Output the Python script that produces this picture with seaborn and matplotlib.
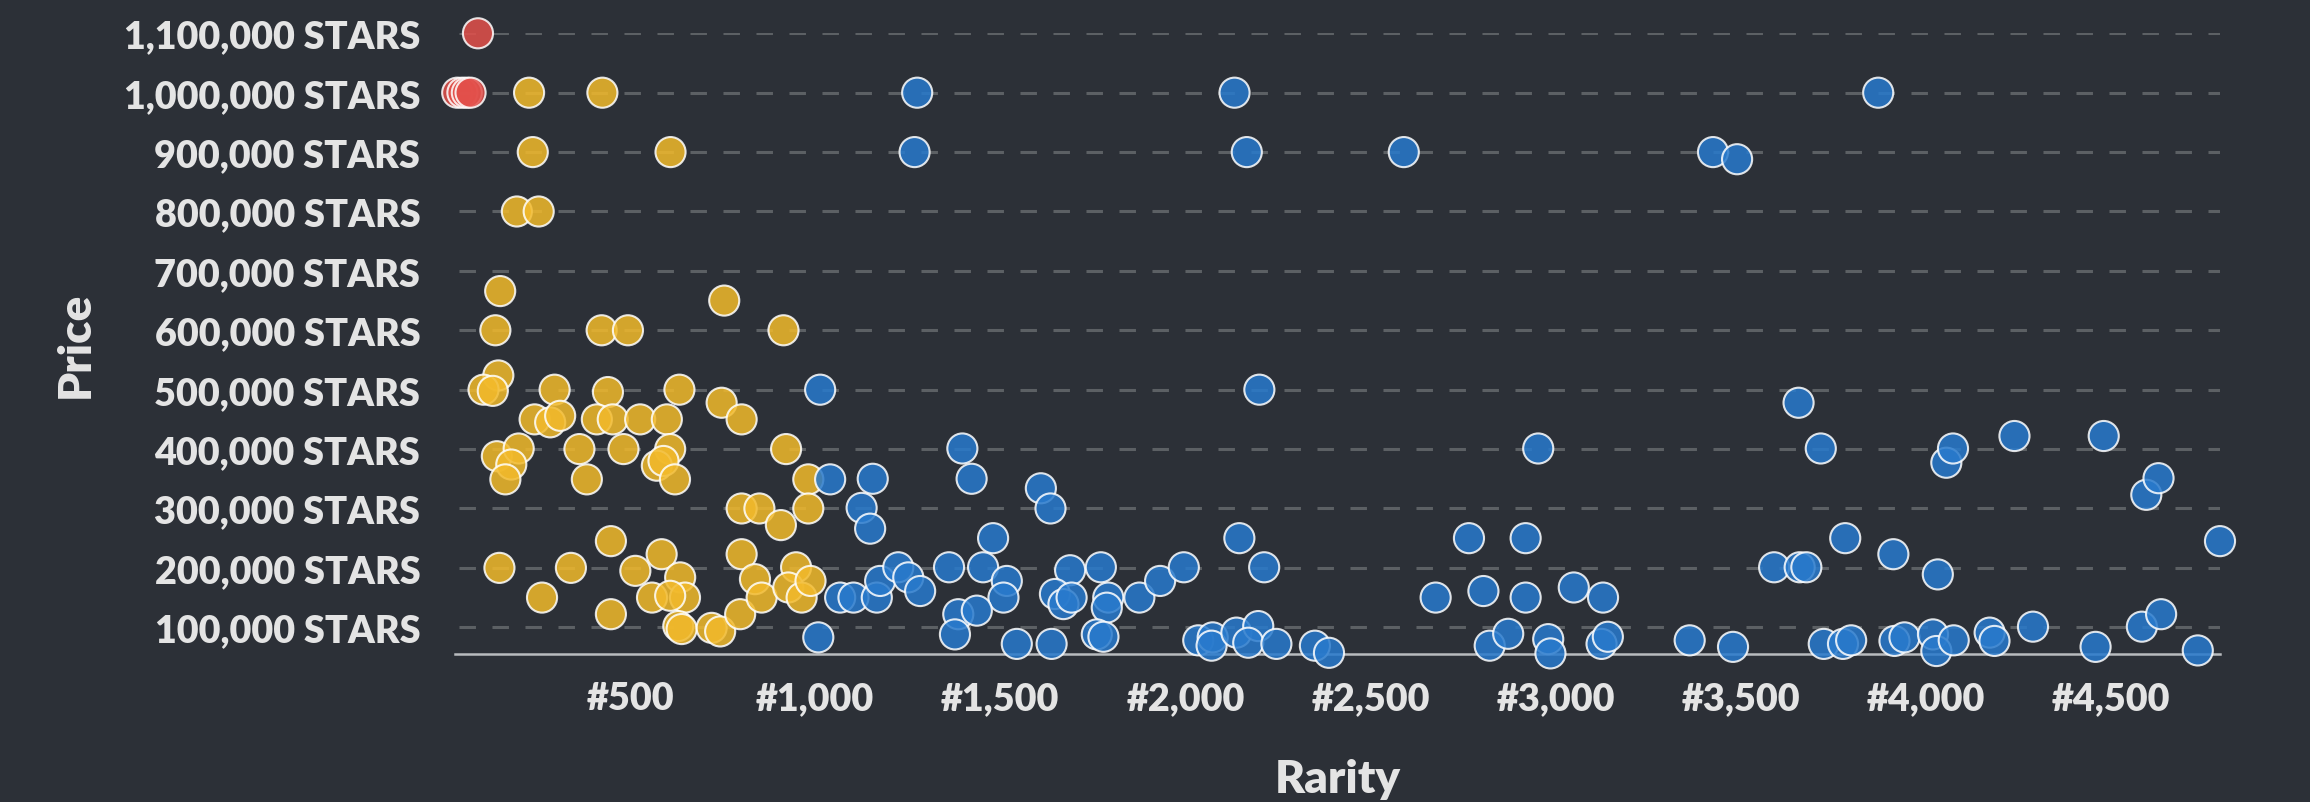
import numpy as np
import pandas as pd
import matplotlib
matplotlib.use("Agg")
import matplotlib.pyplot as plt
from matplotlib.ticker import FixedLocator, FuncFormatter
import seaborn as sns

# ---------------- data ----------------
red_rarity = [89, 33, 47, 59, 69]
red_price = [1100000, 1000000, 1000000, 1000000, 1000000]

gold_rarity = [227, 425, 237, 609, 194, 253, 149, 754, 136, 423, 494, 914,
               144, 104, 129, 296, 440, 633, 747, 801, 242, 284, 311, 410, 453, 527, 599,
               140, 199, 179, 163, 363, 383, 482, 608, 572, 590, 621, 921, 981,
               801, 849, 907, 981,
               147, 340, 262, 448, 448, 514, 585, 559, 635, 648, 608, 630, 639, 720, 743,
               797, 801, 837, 855, 948, 927, 963, 987]
gold_price = [1000000, 1000000, 900000, 900000, 800000, 800000, 666000, 650000, 600000, 600000, 600000, 600000,
              524000, 500000, 498000, 500000, 496000, 500000, 478000, 450000, 450000, 445000, 456000, 450000, 450000, 450000, 450000,
              388000, 401000, 374000, 349000, 400000, 349000, 400000, 400000, 372000, 380000, 349000, 400000, 349000,
              300000, 300000, 272000, 300000,
              200000, 200000, 150000, 245000, 122000, 195000, 223000, 150000, 184000, 150000, 153000, 102000, 97000, 99000, 93000,
              122000, 223000, 181000, 150000, 201000, 167000, 150000, 178000]

blue_rarity = [1275, 2132, 3870, 1268, 2165, 2589, 3424, 3489, 1013, 2199, 3655,
               1040, 1155, 1125, 1148, 1008, 1067, 1103, 1166, 1175, 1224, 1251, 1283,
               1397, 1422, 1609, 1635, 1480, 1361, 1453, 1517, 1508, 1386, 1436, 1377, 1544, 1638,
               1688, 1647, 1670, 1692, 1771, 1791, 1787, 1760, 1778, 1875, 1931, 1995, 2145, 2212,
               2034, 2073, 2070, 2137, 2196, 2169, 2245, 2349, 2387,
               2952, 3715, 2765, 2918, 3781, 3911, 2675, 2804, 2918, 3048, 3127, 2821, 2871, 2979,
               2985, 3123, 3140, 3361, 3478, 3589, 3658, 3676, 3723, 3775, 3797, 3914, 3941,
               4054, 4072, 4238, 4479, 4594, 4627, 4793, 4031, 4018, 4027, 4074, 4171, 4184,
               4288, 4457, 4582, 4634, 4733]
blue_price = [1000000, 1000000, 1000000, 900000, 900000, 900000, 900000, 888000, 500000, 500000, 478000,
              349000, 350000, 301000, 266000, 83000, 150000, 150000, 150000, 178000, 201000, 184000, 161000,
              401000, 350000, 334000, 300000, 250000, 201000, 201000, 178000, 150000, 122000, 128000, 88000, 72000, 72000,
              196000, 156000, 139000, 150000, 201000, 150000, 133000, 88000, 84000, 150000, 178000, 201000, 250000, 201000,
              78000, 83000, 69000, 91000, 102000, 74000, 72000, 69000, 57000,
              401000, 401000, 250000, 250000, 250000, 223000, 150000, 161000, 150000, 167000, 150000, 69000, 89000, 80000,
              56000, 72000, 84000, 78000, 67000, 201000, 201000, 201000, 72000, 72000, 78000, 77000, 83000,
              377000, 401000, 422000, 422000, 323000, 351000, 245000, 189000, 88000, 60000, 78000, 91000, 77000,
              101000, 67000, 101000, 122000, 61000]

tiers = ["red", "gold", "blue"]
price_ticks = [100000, 200000, 300000, 400000, 500000, 600000, 700000, 800000, 900000, 1000000, 1100000]
rarity_ticks = [500, 1000, 1500, 2000, 2500, 3000, 3500, 4000, 4500]

df = pd.concat([
    pd.DataFrame({"rarity": red_rarity, "price": red_price, "tier": "red"}),
    pd.DataFrame({"rarity": gold_rarity, "price": gold_price, "tier": "gold"}),
    pd.DataFrame({"rarity": blue_rarity, "price": blue_price, "tier": "blue"}),
], ignore_index=True)

# ---------------- style ----------------
BG = "#2c3037"
TXT = "#e4e4e4"
GRID = "#5c6064"
AXIS = "#b8bbbe"
palette = {"red": "#e3504b", "gold": "#f2ba2b", "blue": "#287acd"}
WEIGHT = "heavy"

sns.set_theme(style="dark")
plt.rcParams["font.family"] = ["Lato", "DejaVu Sans"]

W, H = 2310, 803
fig = plt.figure(figsize=(W / 100, H / 100), dpi=100, facecolor=BG)
ax_l, ax_r, ax_t, ax_b = 455, 2220, 34.3, 655
ax = fig.add_axes([ax_l / W, 1 - ax_b / H, (ax_r - ax_l) / W, (ax_b - ax_t) / H])
ax.set_facecolor(BG)

sns.scatterplot(data=df, x="rarity", y="price", hue="tier", hue_order=tiers,
                palette=palette, s=470, edgecolor="white", linewidth=1.5,
                alpha=0.85, legend=False, ax=ax, clip_on=False, zorder=3)

xmin, xmax = 27, 4793
ax.set_xlim(xmin, xmax)
ax.set_ylim(55000, 1100000)

ax.yaxis.set_major_locator(FixedLocator(price_ticks))
ax.yaxis.set_major_formatter(FuncFormatter(lambda v, p: f"{int(v):,} STARS"))
ax.xaxis.set_major_locator(FixedLocator(rarity_ticks))
ax.xaxis.set_major_formatter(FuncFormatter(lambda v, p: f"#{int(v):,}"))
ax.xaxis.set_minor_locator(FixedLocator([xmin, xmax]))

ax.set_axisbelow(True)
ax.yaxis.grid(True, color=GRID, linewidth=2.2, linestyle=(9.5, (5.4, 5.4)))
ax.xaxis.grid(False)

for s in ["left", "top", "right"]:
    ax.spines[s].set_visible(False)
ax.spines["bottom"].set_color(AXIS)
ax.spines["bottom"].set_linewidth(1.8)

ax.tick_params(axis="y", which="major", length=0, pad=25, labelsize=27.2,
               labelcolor=TXT)
ax.tick_params(axis="x", which="major", length=0, pad=19.5, labelsize=27.2,
               labelcolor=TXT)
ax.tick_params(axis="x", which="minor", length=13, width=1.8, color=AXIS,
               direction="out")
for lab in ax.get_xticklabels() + ax.get_yticklabels():
    lab.set_fontweight(WEIGHT)

ax.set_xlabel("Rarity", fontsize=33, fontweight=WEIGHT, color=TXT)
ax.xaxis.set_label_coords(0.5, (ax_b - 792.7) / (ax_b - ax_t))
ax.xaxis.label.set_verticalalignment("baseline")

ax.set_ylabel("Price", fontsize=33, fontweight=WEIGHT, color=TXT)
ax.yaxis.set_label_coords((89 - ax_l) / (ax_r - ax_l), 0.5)
ax.yaxis.label.set_verticalalignment("baseline")

fig.savefig("out.png", dpi=100, facecolor=BG)
